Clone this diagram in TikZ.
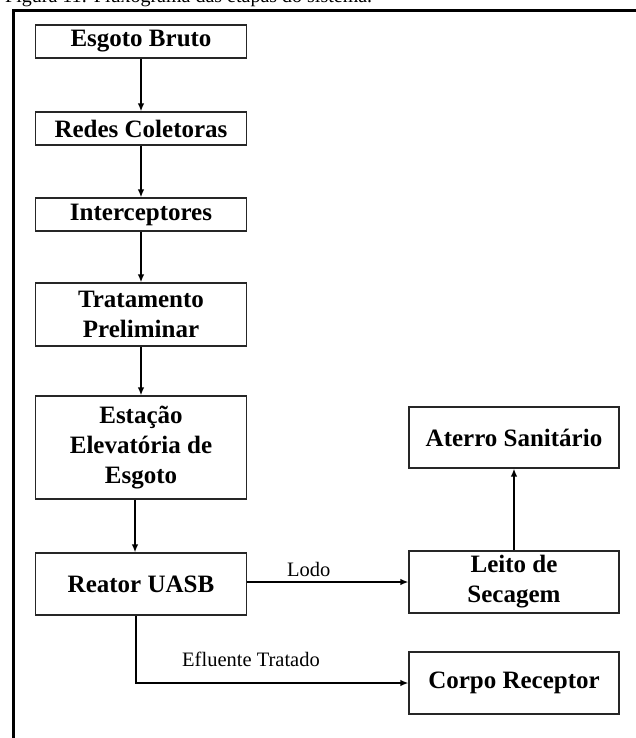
\documentclass[tikz,border=0pt]{standalone}
\usepackage{fontspec}
\setmainfont{Liberation Serif}
\usetikzlibrary{arrows.meta,calc}
\begin{document}
\begin{tikzpicture}[x=1pt,y=1pt,
  stepbox/.style={draw=black!85, line width=1.1pt, minimum width=211pt, inner sep=0pt,
    align=center, font=\bfseries\fontsize{25}{30}\selectfont},
  arr/.style={line width=2pt, -{Latex[length=8pt,width=6.5pt]}},
  lbl/.style={font=\fontsize{20.5}{24}\selectfont, inner sep=0pt, anchor=base west},
  frame/.style={line width=2.2pt}]
\useasboundingbox (0,0) rectangle (635,-738);
% caption (cut off by the top edge, as in the reference)
\node[font=\fontsize{20}{24}\selectfont, inner sep=0pt, anchor=base west] (cap) at (5,-3) {Figura 11: Fluxograma das etapas do sistema.};
% outer frame
\draw[frame] (13.5,-760) -- (13.5,-10.5) -- (660,-10.5);
% left column
\node[stepbox, minimum height=33pt] (esgoto) at (141,-41.5) {Esgoto Bruto};
\node[stepbox, minimum height=33pt] (redes) at (141,-128.5) {Redes Coletoras};
\node[stepbox, minimum height=33pt] (inter) at (141,-214.5) {Interceptores};
\node[stepbox, minimum height=63pt] (trat) at (141,-314.5) {Tratamento\\Preliminar};
\node[stepbox, minimum height=103pt] (estacao) at (141,-447.5) {Estação\\Elevatória de\\Esgoto};
\node[stepbox, minimum height=62pt] (reator) at (141,-584) {Reator UASB};
% right column
\node[stepbox, minimum width=210pt, minimum height=61pt] (aterro) at (514,-437.5) {Aterro Sanitário};
\node[stepbox, minimum width=210pt, minimum height=62pt] (leito) at (514,-582) {Leito de\\Secagem};
\node[stepbox, minimum width=210pt, minimum height=62pt] (corpo) at (514,-683) {Corpo Receptor};
% connectors
\draw[arr] (esgoto) -- (redes);
\draw[arr] (redes) -- (inter);
\draw[arr] (inter) -- (trat);
\draw[arr] (trat) -- (estacao);
\draw[arr] ([xshift=-6pt]estacao.south) -- ([xshift=-6pt]reator.north);
\draw[arr] (reator.east |- leito.west) -- (leito.west);
\coordinate (bend) at ($(reator.south)+(-5,0)$);
\draw[arr] (bend) |- (corpo.west);
\draw[arr] (leito) -- (aterro);
% labels
\node[lbl] (lodo) at (287,-576) {Lodo};
\node[lbl] (eflu) at (182,-666) {Efluente Tratado};
\end{tikzpicture}
\end{document}
